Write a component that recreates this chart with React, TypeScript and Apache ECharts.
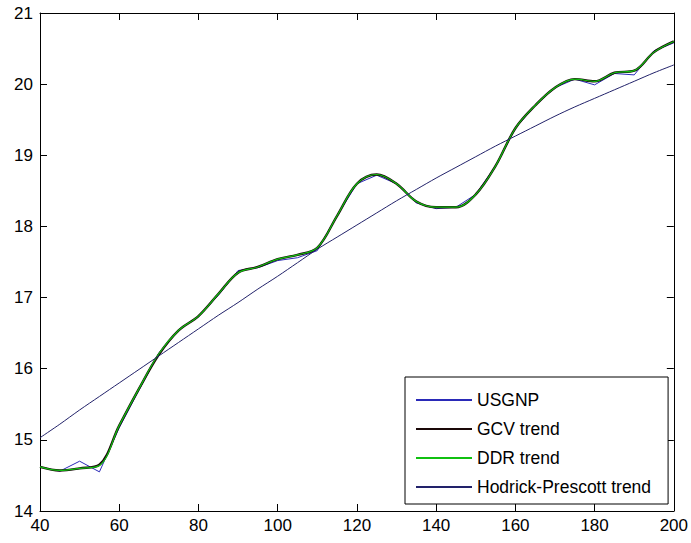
import React, { useEffect, useRef } from "react";
import * as echarts from "echarts";

const xValues = [40, 45, 50, 55, 60, 65, 70, 75, 80, 85, 90, 95, 100, 105, 110, 115, 120, 125, 130, 135, 140, 145, 150, 155, 160, 165, 170, 175, 180, 185, 190, 195, 200];
const usgnp = [14.62, 14.56, 14.70, 14.55, 15.17, 15.70, 16.22, 16.55, 16.73, 17.03, 17.38, 17.42, 17.52, 17.56, 17.66, 18.15, 18.60, 18.72, 18.60, 18.33, 18.25, 18.27, 18.45, 18.85, 19.38, 19.70, 19.95, 20.07, 19.99, 20.15, 20.13, 20.47, 20.58];
const gcvTrend = [14.62, 14.57, 14.60, 14.65, 15.20, 15.72, 16.20, 16.54, 16.74, 17.05, 17.35, 17.43, 17.54, 17.60, 17.70, 18.15, 18.60, 18.73, 18.60, 18.35, 18.27, 18.27, 18.45, 18.85, 19.38, 19.70, 19.95, 20.07, 20.04, 20.16, 20.19, 20.45, 20.60];
const ddrTrend = [14.62, 14.57, 14.60, 14.64, 15.20, 15.72, 16.21, 16.54, 16.74, 17.05, 17.35, 17.43, 17.54, 17.60, 17.70, 18.15, 18.60, 18.73, 18.60, 18.35, 18.27, 18.27, 18.45, 18.85, 19.38, 19.70, 19.95, 20.07, 20.04, 20.16, 20.19, 20.45, 20.60];
const hpTrend = [15.03, 15.22, 15.42, 15.61, 15.80, 15.99, 16.18, 16.37, 16.56, 16.75, 16.93, 17.12, 17.30, 17.49, 17.68, 17.85, 18.02, 18.19, 18.36, 18.52, 18.68, 18.83, 18.98, 19.13, 19.27, 19.41, 19.55, 19.68, 19.80, 19.92, 20.04, 20.16, 20.27];

const seriesNames = ["USGNP", "GCV trend", "DDR trend", "Hodrick-Prescott trend"];

const pairs = (ys: number[]) => xValues.map((x, i) => [x, ys[i]]);

export default function App() {
  const ref = useRef<HTMLDivElement>(null);
  useEffect(() => {
    if (!ref.current) return;
    const chart = echarts.init(ref.current, undefined, { renderer: "svg" });
    const font = "Liberation Sans, Arial, Helvetica, sans-serif";
    const axisLine = { show: true, lineStyle: { color: "#000", width: 1 } };
    const tick = { show: true, inside: true, length: 7, lineStyle: { color: "#000" } };
    chart.setOption({
      animation: false,
      backgroundColor: "#fff",
      grid: { left: 40, right: 14, top: 13, bottom: 32, show: false },
      xAxis: [
        {
          type: "value", min: 40, max: 200, interval: 20, position: "bottom",
          axisLine, axisTick: tick, splitLine: { show: false },
          axisLabel: { color: "#000", fontSize: 17, fontFamily: font, margin: 6 },
        },
        {
          type: "value", min: 40, max: 200, interval: 20, position: "top",
          axisLine, axisTick: tick, splitLine: { show: false }, axisLabel: { show: false },
        },
      ],
      yAxis: [
        {
          type: "value", min: 14, max: 21, interval: 1, position: "left",
          axisLine, axisTick: tick, splitLine: { show: false },
          axisLabel: { color: "#000", fontSize: 17, fontFamily: font, margin: 7 },
        },
        {
          type: "value", min: 14, max: 21, interval: 1, position: "right",
          axisLine, axisTick: tick, splitLine: { show: false }, axisLabel: { show: false },
        },
      ],
      legend: {
        data: seriesNames,
        orient: "vertical",
        left: 405,
        top: 377,
        backgroundColor: "#fff",
        borderColor: "#000",
        borderWidth: 1,
        borderRadius: 0,
        padding: [14, 17, 8, 10],
        itemGap: 11,
        itemWidth: 56,
        itemHeight: 14,
        itemStyle: { opacity: 0 },
        textStyle: { color: "#000", fontSize: 17.5, fontFamily: font },
      },
      series: [
        {
          name: "USGNP", type: "line", data: pairs(usgnp), symbol: "none",
          lineStyle: { color: "#2a2ab8", width: 1 }, itemStyle: { color: "#2a2ab8" }, z: 2,
        },
        {
          name: "GCV trend", type: "line", data: pairs(gcvTrend), symbol: "none", smooth: 0.35,
          lineStyle: { color: "#1a0808", width: 2.4 }, itemStyle: { color: "#1a0808" }, z: 3,
        },
        {
          name: "DDR trend", type: "line", data: pairs(ddrTrend), symbol: "none", smooth: 0.35,
          lineStyle: { color: "#10c010", width: 1.2 }, itemStyle: { color: "#10c010" }, z: 4,
        },
        {
          name: "Hodrick-Prescott trend", type: "line", data: pairs(hpTrend), symbol: "none", smooth: 0.3,
          lineStyle: { color: "#22226a", width: 1 }, itemStyle: { color: "#22226a" }, z: 5,
        },
      ],
    });
    return () => chart.dispose();
  }, []);
  return (
    <div
      ref={ref}
      style={{ position: "fixed", left: 0, top: 0, width: 691, height: 543, background: "#fff" }}
    />
  );
}
